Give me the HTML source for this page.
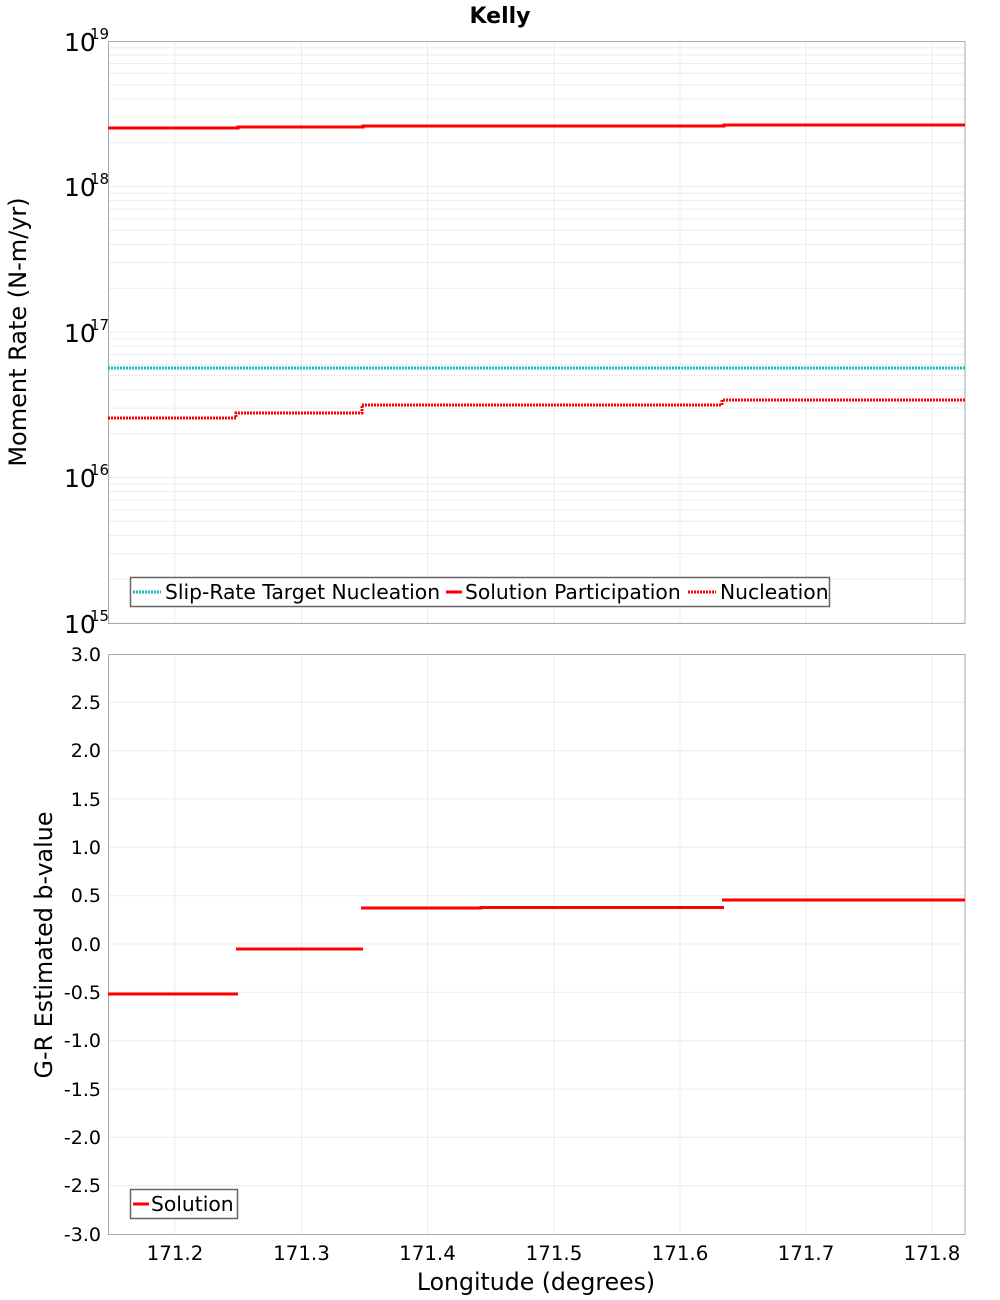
<!DOCTYPE html>
<html><head><meta charset="utf-8"><style>body{margin:0;background:#fff}svg{display:block;font-family:"DejaVu Sans","Liberation Sans",sans-serif}</style></head><body>
<svg width="1000" height="1300" viewBox="0 0 1000 1300">
<defs>
<g id="dec" stroke="#ececec" stroke-width="1">
<line x1="108" x2="965" y1="0" y2="0"/>
<line x1="108" x2="965" y1="-43.8" y2="-43.8"/>
<line x1="108" x2="965" y1="-69.4" y2="-69.4"/>
<line x1="108" x2="965" y1="-87.6" y2="-87.6"/>
<line x1="108" x2="965" y1="-101.7" y2="-101.7"/>
<line x1="108" x2="965" y1="-113.2" y2="-113.2"/>
<line x1="108" x2="965" y1="-123" y2="-123"/>
<line x1="108" x2="965" y1="-131.4" y2="-131.4"/>
<line x1="108" x2="965" y1="-138.8" y2="-138.8"/>
</g>
<g id="vg" stroke="#ececec" stroke-width="1">
<line x1="175" x2="175" y1="0" y2="1"/><line x1="301.5" x2="301.5" y1="0" y2="1"/><line x1="427.5" x2="427.5" y1="0" y2="1"/><line x1="554" x2="554" y1="0" y2="1"/><line x1="680" x2="680" y1="0" y2="1"/><line x1="806" x2="806" y1="0" y2="1"/><line x1="932" x2="932" y1="0" y2="1"/>
</g>
</defs>
<text x="500" y="23" text-anchor="middle" font-weight="bold" font-size="22">Kelly</text>
<use href="#dec" y="186.5"/><use href="#dec" y="332"/><use href="#dec" y="477.5"/><use href="#dec" y="623"/>
<use href="#vg" transform="translate(0,41) scale(1,582)"/>
<rect x="108.5" y="41.5" width="856.5" height="582" fill="none" stroke="#aaa"/>
<g font-size="25">
<text x="64" y="51">10</text><text x="90" y="39" font-size="15">19</text>
<text x="64" y="196">10</text><text x="90" y="184" font-size="15">18</text>
<text x="64" y="342">10</text><text x="90" y="330" font-size="15">17</text>
<text x="64" y="487">10</text><text x="90" y="475" font-size="15">16</text>
<text x="64" y="633">10</text><text x="90" y="621" font-size="15">15</text>
</g>
<text transform="translate(26,332) rotate(-90)" text-anchor="middle" font-size="24">Moment Rate (N-m/yr)</text>
<path d="M108 128H238V127H363V126H481V126H598V126H724V125H965" stroke="#ff0000" stroke-width="3" fill="none"/>
<path d="M108 418H236V413H362V405H722V400H965" stroke="#ff0000" stroke-width="3" fill="none" stroke-dasharray="2 1"/>
<line x1="108" x2="965" y1="368" y2="368" stroke="#1fb8b8" stroke-width="3" stroke-dasharray="2 1"/>
<rect x="130.5" y="577.5" width="699" height="29" fill="#fff" stroke="#666" stroke-width="1.5"/>
<line x1="133" x2="161" y1="592" y2="592" stroke="#1fb8b8" stroke-width="3" stroke-dasharray="2 1"/>
<text x="165" y="599" font-size="20.3">Slip-Rate Target Nucleation</text>
<line x1="446" x2="462" y1="592" y2="592" stroke="#f00" stroke-width="3"/>
<text x="465" y="599" font-size="20.3">Solution Participation</text>
<line x1="688" x2="716" y1="592" y2="592" stroke="#f00" stroke-width="3" stroke-dasharray="2 1"/>
<text x="720" y="599" font-size="20.3">Nucleation</text>
<g stroke="#ececec">
<line x1="108" x2="965" y1="702.3" y2="702.3"/><line x1="108" x2="965" y1="750.7" y2="750.7"/><line x1="108" x2="965" y1="799" y2="799"/><line x1="108" x2="965" y1="847.3" y2="847.3"/><line x1="108" x2="965" y1="895.7" y2="895.7"/><line x1="108" x2="965" y1="944" y2="944"/><line x1="108" x2="965" y1="992.3" y2="992.3"/><line x1="108" x2="965" y1="1040.7" y2="1040.7"/><line x1="108" x2="965" y1="1089" y2="1089"/><line x1="108" x2="965" y1="1137.3" y2="1137.3"/><line x1="108" x2="965" y1="1185.7" y2="1185.7"/>
</g>
<use href="#vg" transform="translate(0,654) scale(1,580)"/>
<rect x="108.5" y="654.5" width="856.5" height="580" fill="none" stroke="#aaa"/>
<g font-size="19" text-anchor="end">
<text x="101" y="661">3.0</text><text x="101" y="709">2.5</text><text x="101" y="757">2.0</text><text x="101" y="806">1.5</text><text x="101" y="854">1.0</text><text x="101" y="902">0.5</text><text x="101" y="951">0.0</text><text x="101" y="999">-0.5</text><text x="101" y="1047">-1.0</text><text x="101" y="1096">-1.5</text><text x="101" y="1144">-2.0</text><text x="101" y="1192">-2.5</text><text x="101" y="1241">-3.0</text>
</g>
<text transform="translate(52,945) rotate(-90)" text-anchor="middle" font-size="23.8">G-R Estimated b-value</text>
<path d="M108 994H238M236 949H363M361 908H481V907.5H724M722 900H965" stroke="#f00" stroke-width="3" fill="none"/>
<rect x="130.5" y="1189.5" width="107" height="29" fill="#fff" stroke="#666" stroke-width="1.5"/>
<line x1="133" x2="149" y1="1204" y2="1204" stroke="#f00" stroke-width="3"/>
<text x="151" y="1211" font-size="20.3">Solution</text>
<g font-size="19.8" text-anchor="middle">
<text x="175" y="1260">171.2</text><text x="301.5" y="1260">171.3</text><text x="427.5" y="1260">171.4</text><text x="554" y="1260">171.5</text><text x="680" y="1260">171.6</text><text x="806" y="1260">171.7</text><text x="932" y="1260">171.8</text>
</g>
<text x="536" y="1290" text-anchor="middle" font-size="23.6">Longitude (degrees)</text>
</svg>
</body></html>
